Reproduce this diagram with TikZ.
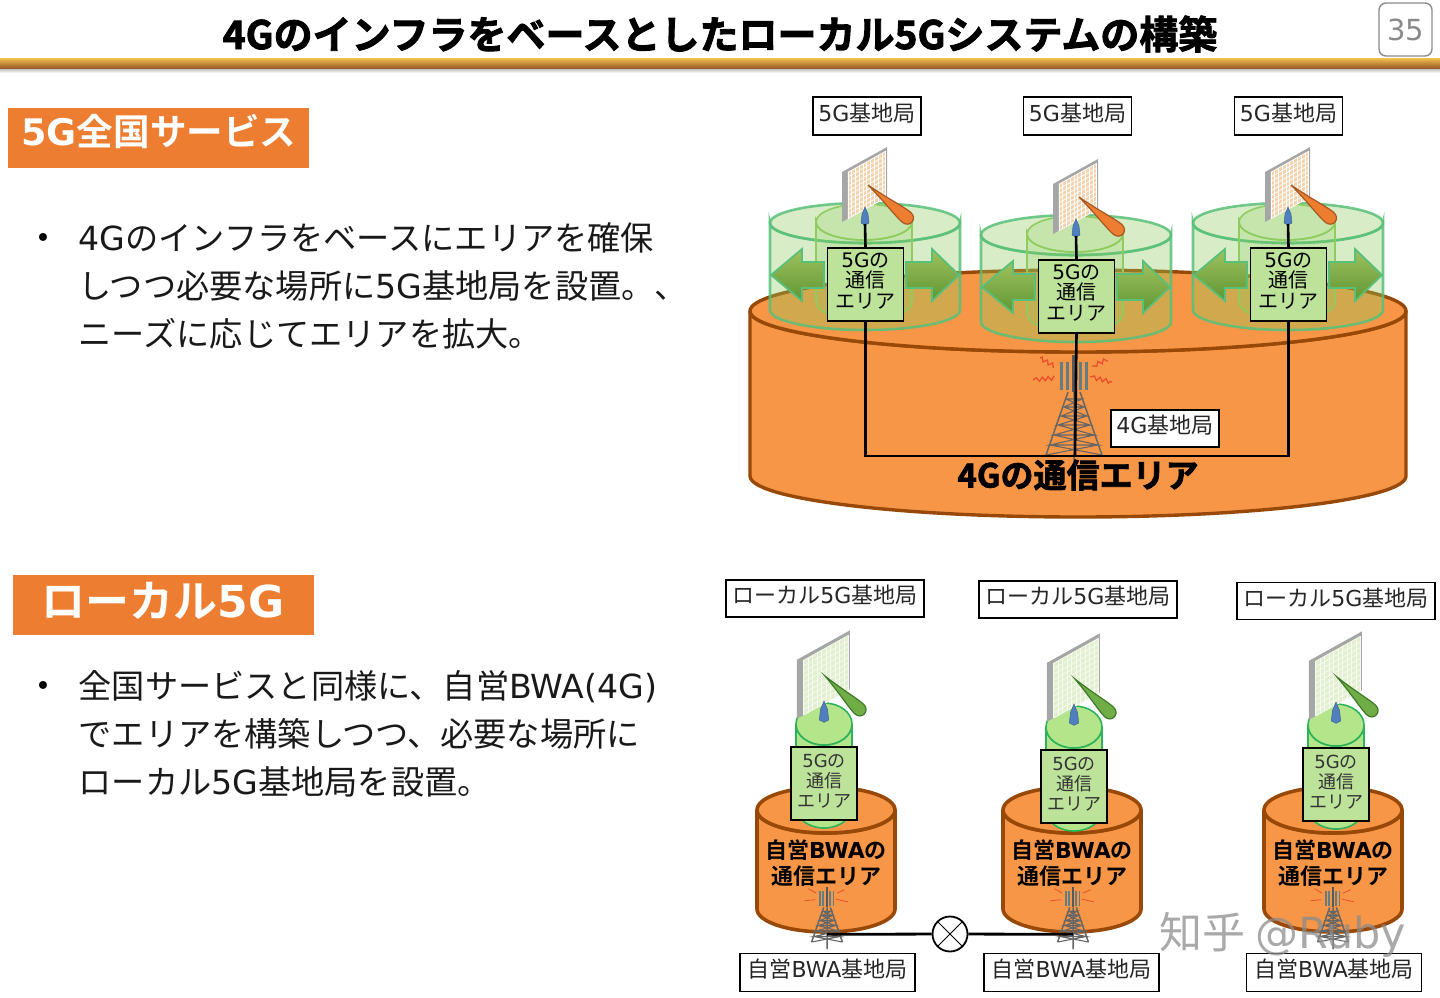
\documentclass[tikz,border=0pt]{standalone}
\usepackage{fontspec}
\usetikzlibrary{decorations.pathmorphing}
\setmainfont{Noto Sans CJK JP}[BoldFont={Noto Sans CJK JP Bold}]
\newfontfamily\latinfont{DejaVu Sans}
\newfontfamily\heavyfont{Noto Sans CJK JP Bold}[FakeBold=2.2]
\newcommand{\lf}[1]{{\latinfont #1}}
\newcommand{\fs}[2]{\fontsize{#1}{#2}\selectfont}

\definecolor{tagorange}{HTML}{ED7D31}
\definecolor{areaorange}{HTML}{F79646}
\definecolor{areabrown}{HTML}{984807}
\definecolor{cellgreen}{HTML}{8FCC5F}
\definecolor{celledge}{HTML}{59C07A}
\definecolor{localgreen}{HTML}{B5E58A}
\definecolor{localedge}{HTML}{2DB35A}
\definecolor{boxgreen}{HTML}{BDE39B}
\definecolor{pagegray}{HTML}{8A8A8A}
\definecolor{towergray}{HTML}{666666}
\definecolor{mastteal}{HTML}{5F7F85}
\definecolor{sparkred}{HTML}{E8502A}
\definecolor{rulegold}{HTML}{F2C14E}
\definecolor{rulebrown}{HTML}{9A5B26}
\definecolor{spreadtop}{HTML}{9FC25F}
\definecolor{spreadlow}{HTML}{5F9632}
\definecolor{feedblue}{HTML}{4F7FBF}
\definecolor{panelpeach}{HTML}{F3D4AE}
\definecolor{panelpale}{HTML}{E3F0D0}
\definecolor{panelline}{HTML}{F7FAF2}
\definecolor{beamgreen}{HTML}{70AD47}
\definecolor{beamedge}{HTML}{3F7A2A}

\tikzset{
  tagbox/.style={fill=tagorange,text=white,inner sep=0pt,font=\bfseries},
  bodytext/.style={anchor=west,align=left,inner sep=0pt,text=black!90,font=\fs{33.2}{48}},
  basebox/.style={draw=black,fill=white,line width=1.4pt,inner sep=0pt,text=black!85,minimum height=38,text height=16,text depth=6},
  areabox/.style={draw=black,fill=boxgreen,line width=1.6pt,inner sep=0pt,align=center,minimum width=76,minimum height=73,text height=53,text depth=6,font=\fs{20}{20.5}},
  localbox/.style={draw=black,fill=boxgreen,line width=1.4pt,inner sep=0pt,align=center,text=black!80,minimum width=66,minimum height=73,text height=54,text depth=6,font=\fs{18}{20}},
  wire/.style={draw=black,line width=2.6pt},
  thinwire/.style={draw=black,line width=2.8pt},
  spread/.style={draw=celledge,line width=1.8pt,top color=spreadtop,bottom color=spreadlow},
  sparkline/.style={sparkred,line width=1.3pt,decorate,decoration={zigzag,segment length=6,amplitude=2}},
  pics/panelant/.style 2 args={code={
    \begin{scope}[shift={(-23,-51)},x={(45pt,25pt)},y={(0pt,-50pt)}]
      \fill[black!35] (0,0) -- (1,0) -- (1,1) -- (0,1) -- cycle;
      \fill[#1] (.13,.07) -- (.97,.07) -- (.97,1) -- (.13,1) -- cycle;
      \foreach \u in {.13,.214,...,.98} \draw[#2,line width=.7pt] (\u,.07) -- (\u,1);
      \foreach \v in {.07,.163,...,1.01} \draw[#2,line width=.7pt] (.13,\v) -- (.97,\v);
    \end{scope}
    \draw[fill=feedblue,draw=feedblue!70!black,line width=.4pt] (-4,0) -- (-3,-9) -- (0,-16) -- (3,-9) -- (4,0) -- (0,2) -- cycle;
    \coordinate (-foot) at (0,1);
  }},
  pics/beam/.style 2 args={code={
    \draw[fill=#1,draw=#2,line width=1.2pt] (0,0) .. controls (22,-2) and (42,-6.5) .. (50,-6.5) .. controls (60,-6.5) and (60,6.5) .. (50,6.5) .. controls (42,6.5) and (22,2) .. (0,0) -- cycle;
  }},
  pics/tower/.style={code={
    \foreach \x in {-13,-7,6,12} \fill[mastteal] (\x-1.5,-93) rectangle (\x+1.5,-65);
    \fill[black!65] (-2,-100) rectangle (2,-63);
    \draw[towergray,line width=1.5pt] (-6,-63) -- (-28,0) (6,-63) -- (28,0) (0,-63) -- (0,13);
    \draw[towergray,line width=1.1pt] (-8,-56) -- (8,-56) -- (-10,-48) -- (10,-48) -- (-8,-56) (-10,-48) -- (13,-39) -- (-13,-39) -- (10,-48) (-13,-39) -- (16,-30) -- (-16,-30) -- (13,-39) (-16,-30) -- (20,-20) -- (-20,-20) -- (16,-30) (-20,-20) -- (24,-10) -- (-24,-10) -- (20,-20) (-24,-10) -- (28,0) (24,-10) -- (-28,0);
    \draw[sparkline] (-34,-97) -- (-20,-89) (-41,-75) -- (-21,-77) (18,-89) -- (32,-95) (16,-78) -- (38,-73);
    \coordinate (-link) at (0,-14);
  }}
}

% cylinder: cx, top y, bottom y, rx, ry, look
\newcommand{\drawcyl}[6]{
  \path[#6] (#1-#4,#2) -- (#1-#4,#3) arc (180:0:#4 and #5) -- (#1+#4,#2) arc (0:180:#4 and #5) -- cycle;
  \path[#6] (#1,#2) ellipse (#4 and #5);
}

\begin{document}
\begin{tikzpicture}[x=1pt,y=-1pt]
  \useasboundingbox (0,0) rectangle (1440,997);

  % Header
  \node[inner sep=0pt,font=\heavyfont\fs{39}{39}] (title) at (720,34) {4Gのインフラをベースとしたローカル5Gシステムの構築};
  \shade[top color=black!35,bottom color=white] (0,67) rectangle (1440,73);
  \shade[top color=rulegold,bottom color=rulebrown] (0,58) rectangle (1440,68);
  \node[draw=pagegray,line width=1.4pt,rounded corners=7pt,minimum width=53,minimum height=53,inner sep=0pt,text=pagegray,font=\latinfont\fs{29}{29}] (page) at (1405.5,29.5) {35};

  % Left column
  \node[tagbox,minimum width=301,minimum height=60] (tagnation) at (158.5,138) {};
  \node[inner sep=0pt,text=white,font=\bfseries\fs{36.6}{36}] (tagnationtext) at (159,131) {\lf{\bfseries 5G}全国サービス};
  \node[inner sep=0pt] (bulleta) at (43,241) {\latinfont\fs{27}{27}•};
  \node[bodytext] (texta) at (78.5,286) {\lf{4G}のインフラをベースにエリアを確保\\しつつ必要な場所に\lf{5G}基地局を設置。、\\ニーズに応じてエリアを拡大。};
  \node[tagbox,minimum width=301,minimum height=60] (taglocal) at (163.5,605) {};
  \node[inner sep=0pt,text=white,font=\bfseries\fs{44}{44}] (taglocaltext) at (163,601) {ローカル\lf{\bfseries 5G}};
  \node[inner sep=0pt] (bulletb) at (43,689) {\latinfont\fs{27}{27}•};
  \node[bodytext] (textb) at (78.5,734) {全国サービスと同様に、自営\lf{BWA(4G)}\\でエリアを構築しつつ、必要な場所に\\ローカル\lf{5G}基地局を設置。};

  % 4G area
  \drawcyl{1078}{311}{476}{328}{41}{fill=areaorange,draw=areabrown,line width=3.4pt}
  \pic (towerbig) at (1074,455) {tower};
  \node[basebox,minimum width=108,minimum height=37,font=\fs{22}{22}] (base4g) at (1165,428.5) {\lf{4G}基地局};

  % 5G areas
  \foreach \cx/\oy/\n/\bx in {865/0/a/867,1076/12/b/1077.5,1288/0/c/1288.5}{
    \drawcyl{\cx}{223+\oy}{310+\oy}{95}{20}{fill=cellgreen,fill opacity=.35,draw=celledge,draw opacity=.85,line width=2.6pt}
    \drawcyl{\cx-1}{222+\oy}{302+\oy}{48}{18}{fill=cellgreen,fill opacity=.25,draw=cellgreen,line width=1.6pt}
    \draw[spread] (\cx-94,275+\oy) -- (\cx-63,249+\oy) -- (\cx-63,262+\oy) -- (\cx-41,262+\oy) -- (\cx-41,288+\oy) -- (\cx-63,288+\oy) -- (\cx-63,301+\oy) -- cycle;
    \draw[spread] (\cx+94,275+\oy) -- (\cx+67,249+\oy) -- (\cx+67,262+\oy) -- (\cx+41,262+\oy) -- (\cx+41,288+\oy) -- (\cx+67,288+\oy) -- (\cx+67,301+\oy) -- cycle;
    \pic (panel\n) at (\cx,223+\oy) {panelant={panelpeach}{white}};
    \pic[rotate=-40] at (\cx+3,185+\oy) {beam={tagorange}{tagorange!70!black}};
    \node[areabox] (area\n) at (\cx+.5,284.5+\oy) {\lf{5G}の\\通信\\エリア};
    \node[basebox,minimum width=108,font=\fs{22}{22}] (base\n) at (\bx,116) {\lf{5G}基地局};
    \draw[wire] (panel\n-foot) -- (area\n.north);
  }
  \coordinate (bus) at (1075,456);
  \draw[wire] (areaa.south) |- (bus) -| (areac.south);
  \draw[wire] (areab.south) -- (bus);
  \node[inner sep=0pt,font=\heavyfont\fs{33}{33}] (area4g) at (1078,475) {4Gの通信エリア};

  % Local 5G
  \foreach \ocx/\cx/\oy/\n/\bx/\tx/\ly in {826/824/0/l/827.5/825/598.5,1072/1074/3/m/1071.5/1078/599.5,1333/1336/1/r/1334/1336/601}{
    \node[basebox,minimum width=198,minimum height=37,font=\fs{22}{22}] (localbase\n) at (\tx,\ly) {ローカル\lf{5G}基地局};
    \drawcyl{\ocx}{810}{909}{69}{23}{fill=areaorange,draw=areabrown,line width=3.6pt}
    \drawcyl{\cx}{724+\oy}{807+\oy}{28}{21}{fill=localgreen,draw=localedge,line width=1.6pt}
    \pic[scale=1.18] (localpanel\n) at (\cx,720+\oy) {panelant={panelpale}{panelline}};
    \pic[rotate=-44,xscale=.95] at (\cx+1,676+\oy) {beam={beamgreen}{beamedge}};
    \node[localbox] (localarea\n) at (\cx,783.5+\oy) {\lf{5G}の\\通信\\エリア};
    \node[inner sep=0pt,align=center,font=\bfseries\fs{22}{26}] (localtext\n) at (\ocx,863) {自営\lf{\bfseries BWA}の\\通信エリア};
    \node[basebox,minimum width=175,minimum height=38,font=\fs{22}{22}] (bwabase\n) at (\bx,972.5) {自営\lf{BWA}基地局};
  }
  \begin{scope}[sparkline/.style={sparkred,line width=.8pt}]
    \pic[scale=.55] (towerl) at (827,942) {tower};
    \pic[scale=.55] (towerm) at (1073,942) {tower};
    \pic[scale=.55] (towerr) at (1333,942) {tower};
  \end{scope}
  \node[draw=black,fill=white,circle,line width=1.8pt,minimum size=35,inner sep=0pt] (mixer) at (950,934) {};
  \draw[line width=.9pt] (mixer.45) -- (mixer.225) (mixer.135) -- (mixer.315);
  \draw[thinwire] (towerl-link) -- (mixer);
  \draw[thinwire] (mixer) -- (towerm-link);

  % Watermark
  \node[inner sep=0pt,text=black!45,opacity=.75,font=\fs{43}{43}] (mark) at (1283,935) {知乎 \lf{@Ruby}};
\end{tikzpicture}
\end{document}
